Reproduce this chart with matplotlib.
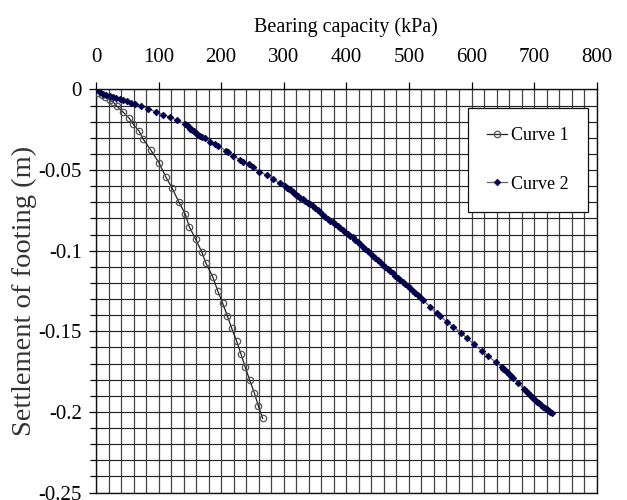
import matplotlib
matplotlib.use("Agg")
import matplotlib.pyplot as plt
from matplotlib.ticker import MultipleLocator

plt.rcParams['font.family'] = ['Liberation Serif', 'DejaVu Serif']
plt.rcParams['axes.unicode_minus'] = False

# Curve 1 (bearing capacity kPa, settlement m)
c1_q = [0, 3.7, 9.1, 14.4, 22.4, 27.6, 33.1, 43.6, 53.2, 59.6, 68.7, 75.6, 87.4,
        100.6, 111.3, 121.9, 132.1, 142.7, 149.0, 159.3, 168.8, 175.7, 186.4,
        194.4, 202.4, 209.7, 216.8, 224.8, 231.6, 238.5, 245.5, 252.9, 259.3, 266.3]
c1_s = [0, -0.0024, -0.0034, -0.0045, -0.0065, -0.0079, -0.0102, -0.0141, -0.0179,
        -0.0216, -0.0257, -0.0309, -0.0375, -0.0454, -0.0541, -0.0613, -0.0696,
        -0.0774, -0.0851, -0.0929, -0.1006, -0.1078, -0.1161, -0.1248, -0.1326,
        -0.1403, -0.1481, -0.1562, -0.1641, -0.1723, -0.1802, -0.1881, -0.1962, -0.2040]

# Curve 2
c2_q = [0, 5.9, 11.2, 16.5, 21.9, 27.2, 32.4, 37.9, 43.1, 50, 56.4, 62.8, 72.4, 83,
        96.3, 107, 117.7, 129.9, 141.7, 145, 148, 150.5, 153, 156, 159, 162, 165.5,
        169, 174, 182, 190, 195.4, 207.7, 211.4, 219.3, 230, 234.3, 244.9, 250.3,
        260.9, 272.7, 283.2, 293.9, 301.9, 305, 308, 311, 314, 317, 320, 323, 326,
        330, 334, 338, 342, 346, 350, 354, 358, 362, 366, 370, 374, 378, 382, 386,
        390, 394, 398, 402, 406, 410, 414, 418, 422, 426, 430, 434, 438, 442, 446,
        450, 454, 458, 462, 466, 470, 474, 478, 482, 486, 490, 494, 498, 502, 506,
        510, 514, 518, 522.8, 533.5, 544.2, 549.5, 560.2, 570.8, 582.6, 593.3, 604,
        616.1, 626.7, 638.5, 648, 651, 654, 657, 660, 663, 666.6, 674.6, 683.7, 687,
        690, 693, 696, 699, 702, 705, 708, 711, 714, 717, 720, 723, 726, 728.9]
c2_s = [0, -0.0016, -0.0026, -0.0032, -0.0040, -0.0047, -0.0053, -0.0061, -0.0067,
        -0.0073, -0.0082, -0.0090, -0.0102, -0.0119, -0.0140, -0.0156, -0.0172,
        -0.0191, -0.0212, -0.0222, -0.0232, -0.0242, -0.0251, -0.0260, -0.0269,
        -0.0278, -0.0286, -0.0293, -0.0303, -0.0324, -0.0340, -0.0350, -0.0380,
        -0.0390, -0.0411, -0.0437, -0.0448, -0.0462, -0.0479, -0.0510, -0.0530,
        -0.0557, -0.0582, -0.0599, -0.0608, -0.0617, -0.0626, -0.0635, -0.0644,
        -0.0653, -0.0662, -0.0670, -0.0680, -0.0691, -0.0702, -0.0713, -0.0724,
        -0.0736, -0.0748, -0.0760, -0.0779, -0.0791, -0.0802, -0.0814, -0.0825,
        -0.0837, -0.0848, -0.0860, -0.0871, -0.0883, -0.0894, -0.0906, -0.0918,
        -0.0932, -0.0946, -0.0960, -0.0974, -0.0988, -0.1002, -0.1016, -0.1030,
        -0.1044, -0.1058, -0.1072, -0.1086, -0.1100, -0.1114, -0.1127, -0.1140,
        -0.1154, -0.1167, -0.1180, -0.1193, -0.1206, -0.1220, -0.1233, -0.1247,
        -0.1261, -0.1275, -0.1289, -0.1306, -0.1347, -0.1389, -0.1405, -0.1440,
        -0.1471, -0.1508, -0.1544, -0.1581, -0.1620, -0.1653, -0.1692, -0.1720,
        -0.1731, -0.1742, -0.1753, -0.1765, -0.1777, -0.1792, -0.1819, -0.1860,
        -0.1872, -0.1883, -0.1894, -0.1905, -0.1916, -0.1927, -0.1937, -0.1947,
        -0.1957, -0.1967, -0.1976, -0.1985, -0.1993, -0.2000, -0.2005]

x_ticks = [0, 100, 200, 300, 400, 500, 600, 700, 800]
y_ticks = [0, -0.05, -0.1, -0.15, -0.2, -0.25]
y_tick_labels = ["0", "-0.05", "-0.1", "-0.15", "-0.2", "-0.25"]

fig = plt.figure(figsize=(6.27, 5.0), dpi=100)
ax = fig.add_axes([96 / 627, 1 - 492.5 / 500, (596.7 - 96) / 627, (492.5 - 89.5) / 500])

ax.set_xlim(0, 800)
ax.set_ylim(-0.25, 0)

# grid
ax.xaxis.set_minor_locator(MultipleLocator(20))
ax.yaxis.set_minor_locator(MultipleLocator(0.01))
ax.grid(which='both', axis='y', color='#222222', linewidth=0.85)
ax.grid(which='both', axis='x', color='#444444', linewidth=0.9)
ax.set_axisbelow(True)

ax.plot(c1_q, c1_s, color='#222222', linewidth=0.9, marker='o', markersize=4.6,
        markerfacecolor='none', markeredgecolor='#555555', markeredgewidth=0.9,
        label='Curve 1', zorder=3)
ax.plot(c2_q, c2_s, color='#666666', linewidth=0.9, marker='D', markersize=3.4,
        markerfacecolor='#00005a', markeredgecolor='#000033', markeredgewidth=0.5,
        label='Curve 2', zorder=4)

ax.xaxis.tick_top()
ax.xaxis.set_label_position('top')
ax.set_xticks(x_ticks)
ax.set_yticks(y_ticks)
ax.set_yticklabels(y_tick_labels)
ax.tick_params(axis='x', which='major', direction='out', length=5, width=0.9,
               labelsize=15, pad=11, top=True, bottom=False)
ax.tick_params(axis='x', which='minor', length=0, top=False, bottom=False)
ax.tick_params(axis='y', which='major', direction='out', length=5, width=0.9,
               labelsize=15, pad=5)
ax.tick_params(axis='y', which='minor', direction='out', length=4, width=0.9)

ax.set_xlabel('Bearing capacity (kPa)', fontsize=14.5, labelpad=12)
ax.set_ylabel('Settlement of footing (m)', fontsize=20.5, labelpad=1, color='#333333')

for sp in ax.spines.values():
    sp.set_color('#111111')
    sp.set_linewidth(1.0)

leg = ax.legend(loc='upper left', bbox_to_anchor=(468 / 627, 1 - 108 / 500),
                bbox_transform=fig.transFigure, fontsize=13, frameon=True,
                fancybox=False, edgecolor='#111111', framealpha=1.0,
                handlelength=1.1, handletextpad=0.25, labelspacing=1.75,
                borderpad=1.05, borderaxespad=0)
leg.get_frame().set_linewidth(0.9)

fig.savefig('out.png', dpi=100)
